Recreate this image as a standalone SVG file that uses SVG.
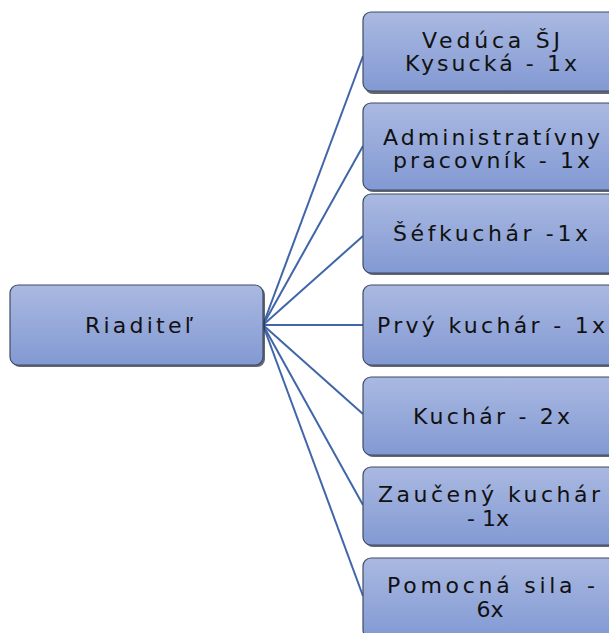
<svg xmlns="http://www.w3.org/2000/svg" width="609" height="633" viewBox="0 0 609 633">
<style>
.box{fill:url(#g);stroke:#3f4b66;stroke-width:1.2}
.sh{fill:#2f3440;opacity:0.75}
.t{font-family:"DejaVu Sans","Open Sans",sans-serif;font-size:22px;fill:#111;}
.c{stroke:#4065a8;stroke-width:2;fill:none}
</style>
<defs>
<linearGradient id="g" x1="0" y1="0" x2="0" y2="1">
<stop offset="0" stop-color="#aab9e1"/>
<stop offset="1" stop-color="#8299d3"/>
</linearGradient>
</defs>
<rect width="609" height="633" fill="#fff"/>
<g id="connectors">
<path class="c" d="M263 325 L363 56"/>
<path class="c" d="M263 325 L363 146"/>
<path class="c" d="M263 325 L363 236"/>
<path class="c" d="M263 325 L363 325"/>
<path class="c" d="M263 325 L363 414"/>
<path class="c" d="M263 325 L363 505"/>
<path class="c" d="M263 325 L363 596"/>
</g>
<g id="root">
<rect class="sh" x="12" y="287" width="253" height="80" rx="8"/>
<rect class="box" x="10" y="285" width="253" height="80" rx="8"/>
<text class="t" x="85" y="333" textLength="108" lengthAdjust="spacing">Riaditeľ</text>
</g>
<g id="n1">
<rect class="sh" x="365" y="14" width="253" height="80" rx="8"/>
<rect class="box" x="363" y="12" width="253" height="79" rx="8"/>
<text class="t" x="422" y="48" textLength="138" lengthAdjust="spacing">Vedúca ŠJ</text>
<text class="t" x="405" y="71" textLength="172" lengthAdjust="spacing">Kysucká - 1x</text>
</g>
<g id="n2">
<rect class="sh" x="365" y="105" width="253" height="87" rx="8"/>
<rect class="box" x="363" y="103" width="253" height="87" rx="8"/>
<text class="t" x="383" y="145" textLength="217" lengthAdjust="spacing">Administratívny</text>
<text class="t" x="393" y="168" textLength="197" lengthAdjust="spacing">pracovník - 1x</text>
</g>
<g id="n3">
<rect class="sh" x="365" y="196" width="253" height="79" rx="8"/>
<rect class="box" x="363" y="194" width="253" height="79" rx="8"/>
<text class="t" x="393" y="241" textLength="195" lengthAdjust="spacing">Šéfkuchár -1x</text>
</g>
<g id="n4">
<rect class="sh" x="365" y="287" width="253" height="80" rx="8"/>
<rect class="box" x="363" y="285" width="253" height="80" rx="8"/>
<text class="t" x="377" y="333" textLength="228" lengthAdjust="spacing">Prvý kuchár - 1x</text>
</g>
<g id="n5">
<rect class="sh" x="365" y="379" width="253" height="78" rx="8"/>
<rect class="box" x="363" y="377" width="253" height="78" rx="8"/>
<text class="t" x="413" y="424" textLength="157" lengthAdjust="spacing">Kuchár - 2x</text>
</g>
<g id="n6">
<rect class="sh" x="365" y="469" width="253" height="78" rx="8"/>
<rect class="box" x="363" y="467" width="253" height="78" rx="8"/>
<text class="t" x="378" y="502" textLength="222" lengthAdjust="spacing">Zaučený kuchár</text>
<text class="t" x="488" y="526" text-anchor="middle">- 1x</text>
</g>
<g id="n7">
<rect class="sh" x="365" y="560" width="253" height="80" rx="8"/>
<rect class="box" x="363" y="558" width="253" height="80" rx="8"/>
<text class="t" x="387" y="593" textLength="208" lengthAdjust="spacing">Pomocná sila -</text>
<text class="t" x="490" y="617" text-anchor="middle">6x</text>
</g>
</svg>
